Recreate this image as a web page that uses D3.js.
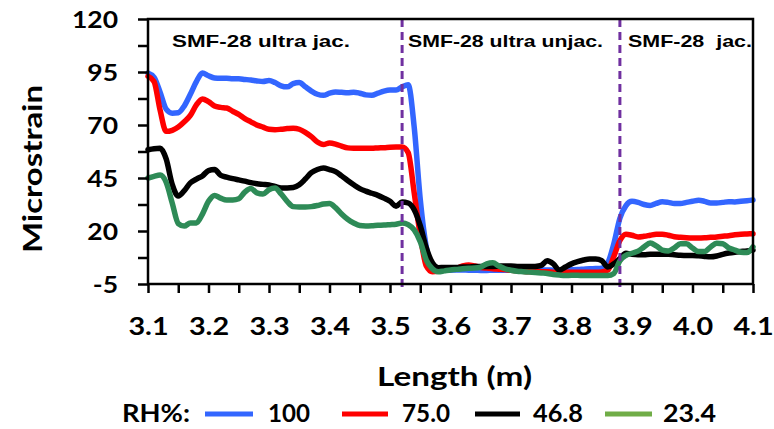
<!DOCTYPE html>
<html>
<head>
<meta charset="utf-8">
<script src="https://cdn.jsdelivr.net/npm/d3@7"></script>
<style>
  html, body { margin: 0; padding: 0; background: #fff; }
  svg { display: block; }
  text { white-space: pre; }
</style>
</head>
<body>
<svg id="chart" width="774" height="429"></svg>
<script>
// ---------------- DATA ----------------
const lengths = [
  3.10,3.11,3.12,3.13,3.14,3.15,3.16,3.17,3.18,3.19,
  3.20,3.21,3.22,3.23,3.24,3.25,3.26,3.27,3.28,3.29,
  3.30,3.31,3.32,3.33,3.34,3.35,3.36,3.37,3.38,3.39,
  3.40,3.41,3.42,3.43,3.44,3.45,3.46,3.47,3.48,3.49,
  3.50,3.51,3.52,3.53,3.54,3.55,3.56,3.57,3.58,3.59,
  3.60,3.61,3.62,3.63,3.64,3.65,3.66,3.67,3.68,3.69,
  3.70,3.71,3.72,3.73,3.74,3.75,3.76,3.77,3.78,3.79,
  3.80,3.81,3.82,3.83,3.84,3.85,3.86,3.87,3.88,3.89,
  3.90,3.91,3.92,3.93,3.94,3.95,3.96,3.97,3.98,3.99,
  4.00,4.01,4.02,4.03,4.04,4.05,4.06,4.07,4.08,4.09,
  4.10
];

const rh100 = [
  94.5,92.5,85.5,77.5,75.6,75.8,79,84.5,90.5,94.5,
  93.2,92.2,92,92,91.8,91.8,91.5,91.2,90.8,90.5,
  91,90,88.5,88,89.5,90,88,86,84.5,84,
  85,85.6,85.4,85.2,85.5,85,84.2,84,85,86,
  86.5,86.5,88,89,69,35,12.5,3.5,1.8,1.5,
  1.5,1.6,1.6,1.5,1.5,1.4,1.4,1.5,1.5,1.5,
  1.5,1.5,1.5,1.5,1.6,1.6,1.6,1.5,1.5,1.6,
  1.7,1.8,2.0,2.2,2.3,2.5,5,14,26,32,
  34,33.5,32.5,32,33,33.8,33.5,33,33,33.5,
  34,34.5,34,33.2,33.2,33.5,33.8,33.7,34,34.3,
  34.6
];

const rh75 = [
  93,90.5,77,67,67.5,69,71.5,74.5,79.5,82.3,
  81,79,78.3,78,76.5,75,73,71.5,70,69,
  68,67.8,68,68.3,68.5,68,66.5,64.5,62,60.8,
  61.5,61,60,59.2,59,59,59,59,59.2,59.3,
  59.5,59.6,59.6,57,38,18,3.5,0.8,1,1.8,
  2.2,2.5,3.5,4,3.5,2.8,2.5,2.2,2,1.8,
  1.5,1.3,1.0,0.8,0.8,0.8,0.8,0.5,0.5,0.5,
  0.5,0.5,0.5,0.5,0.5,0.7,1.5,8,15.5,18.5,
  18,17.2,17.5,18,18.5,18.5,18,17.3,17,16.8,
  16.7,16.7,16.8,17,17.2,17.5,17.8,18.2,18.5,18.6,
  18.7
];

const rh46_8 = [
  58.3,58.8,59,54,42,36.5,39,42.7,44.5,46,
  48.5,49,46.3,45.4,44.7,44.1,43.5,42.8,42.3,42,
  41.7,41,40.3,40.3,40.5,41.8,44.5,47.5,49,49.7,
  49,48,46,43.8,41.8,40,38.8,37.8,36.8,35.5,
  34,31.7,33.7,33.2,30,22.5,12,5,2.7,2.8,
  2.8,2.8,3,3,3.2,3.2,3.3,3.3,3.4,3.5,
  3.5,3.3,3.2,3.2,3.3,3.8,6,4.5,1.5,3,
  4.5,5.5,6.3,6.8,6.8,6,3,4.5,7,9.5,
  9,8.8,8.8,9,9,9,9,8.8,8.6,8.5,
  8.5,8.3,8,7.8,8.2,9,9.6,10,10.3,10.6,
  11
];

const rh23_4 = [
  45,45.8,46.4,43,33.2,23.5,22.3,23.8,23.8,28,
  34,36.8,35.5,34.6,34.6,35.2,38.3,40,38,37.5,
  39.5,40.3,37.5,34,31.5,31.3,31.3,31.5,32,32.7,
  33,31,28,25.5,23.8,22.6,22.4,22.5,22.7,22.8,
  23,23.2,23.8,23,20.5,15,6.3,2.2,0.8,1.2,
  1.6,1.9,2.2,2.4,2.5,3,4.5,5,3.5,2.2,
  1.5,1.0,0.8,0.6,0.4,0.2,0,-0.5,-0.8,-1,
  -0.9,-0.9,-1,-1,-1,-1,-1,0,6,8.5,
  9.5,10.5,12.5,14.3,13,11,10.6,12,14,14,
  12,10.3,10.3,12.5,14.2,14,12,11,10,9.8,
  12.5
];

const seriesNames = ["100", "75.0", "46.8", "23.4"];
const seriesValues = [rh100, rh75, rh46_8, rh23_4];
const lineColors = ["#3366ff", "#ff0000", "#000000", "#2e8b57"];
const legendColors = ["#3366ff", "#ff0000", "#000000", "#70ad47"];

const yTickValues = [-5, 7.5, 20, 32.5, 45, 57.5, 70, 82.5, 95, 107.5, 120];
const yTickLabels = [-5, 20, 45, 70, 95, 120];
const xTickValues = [3.10,3.15,3.20,3.25,3.30,3.35,3.40,3.45,3.50,3.55,3.60,3.65,3.70,3.75,3.80,3.85,3.90,3.95,4.00,4.05,4.10];
const xTickLabels = [3.1,3.2,3.3,3.4,3.5,3.6,3.7,3.8,3.9,4.0,4.1];

const sectionBounds = [3.52, 3.88];
const sectionLabels = ["SMF-28 ultra jac.", "SMF-28 ultra unjac.", "SMF-28  jac."];

// ---------------- LAYOUT ----------------
const svg = d3.select("#chart");
const pLeft = 148, pRight = 753, pTop = 19, pBottom = 284;
const STRETCH = 1.15;
const axisFont = "Lato, 'Open Sans', 'Liberation Sans', sans-serif";

const x = d3.scaleLinear().domain([3.1, 4.1]).range([pLeft, pRight]);
const y = d3.scaleLinear().domain([-5, 120]).range([pBottom, pTop]);

svg.append("rect").attr("width", 774).attr("height", 429).attr("fill", "#fff");

function stretch(sel, f) {
  sel.each(function () {
    const w = this.getComputedTextLength();
    d3.select(this).attr("textLength", w * f).attr("lengthAdjust", "spacingAndGlyphs");
  });
}

// Lines
const line = d3.line()
  .x((d, i) => x(lengths[i]))
  .y(d => y(d))
  .curve(d3.curveMonotoneX);

const plot = svg.append("g");
seriesValues.forEach((vals, k) => {
  plot.append("path")
    .datum(vals)
    .attr("d", line)
    .attr("fill", "none")
    .attr("stroke", lineColors[k])
    .attr("stroke-width", 5.5)
    .attr("stroke-linejoin", "round")
    .attr("stroke-linecap", "round");
});

// Section dividers
svg.selectAll(".divider")
  .data(sectionBounds)
  .enter().append("line")
  .attr("x1", d => x(d)).attr("x2", d => x(d))
  .attr("y1", pTop).attr("y2", pBottom + 6)
  .attr("stroke", "#7030a0")
  .attr("stroke-width", 3)
  .attr("stroke-dasharray", "8,5");

// Section labels
const secPos = [[172, 178], [408, 195], [628, 124]];
svg.selectAll(".sec")
  .data(sectionLabels)
  .enter().append("text")
  .attr("x", (d, i) => secPos[i][0])
  .attr("y", 47)
  .attr("textLength", (d, i) => secPos[i][1])
  .attr("lengthAdjust", "spacingAndGlyphs")
  .attr("font-family", "'Liberation Sans', Arial, sans-serif")
  .attr("font-weight", "bold")
  .attr("font-size", 16.5)
  .attr("fill", "#000")
  .text(d => d);

// Frame
svg.append("rect")
  .attr("x", pLeft).attr("y", pTop)
  .attr("width", pRight - pLeft).attr("height", pBottom - pTop)
  .attr("fill", "none").attr("stroke", "#000").attr("stroke-width", 2.5);

// Y axis
const yAxis = svg.append("g")
  .attr("transform", `translate(${pLeft},0)`)
  .call(d3.axisLeft(y).tickValues(yTickValues).tickSize(10).tickSizeOuter(0)
    .tickFormat(d => yTickLabels.includes(d) ? String(d) : ""));
yAxis.select(".domain").remove();
yAxis.selectAll(".tick line").attr("stroke", "#000").attr("stroke-width", 2.5);
yAxis.selectAll(".tick text")
  .attr("x", -30).attr("dy", "0.36em")
  .attr("font-family", axisFont).attr("font-weight", "bold")
  .attr("font-size", 23).attr("fill", "#000");
stretch(yAxis.selectAll(".tick text").filter(function () { return this.textContent !== ""; }), STRETCH);

// X axis
const xAxis = svg.append("g")
  .attr("transform", `translate(0,${pBottom})`)
  .call(d3.axisBottom(x).tickValues(xTickValues).tickSize(9).tickSizeOuter(0)
    .tickFormat(d => xTickLabels.some(v => Math.abs(v - d) < 1e-9) ? d.toFixed(1) : ""));
xAxis.select(".domain").remove();
xAxis.selectAll(".tick line").attr("stroke", "#000").attr("stroke-width", 2.5);
xAxis.selectAll(".tick text")
  .attr("y", 51).attr("dy", 0)
  .attr("font-family", axisFont).attr("font-weight", "bold")
  .attr("font-size", 25).attr("fill", "#000");
stretch(xAxis.selectAll(".tick text").filter(function () { return this.textContent !== ""; }), STRETCH);

// Axis titles
svg.append("text")
  .attr("x", 377).attr("y", 386)
  .attr("textLength", 155).attr("lengthAdjust", "spacingAndGlyphs")
  .attr("font-family", axisFont).attr("font-weight", "bold")
  .attr("font-size", 26).attr("fill", "#000")
  .text("Length (m)");

svg.append("text")
  .attr("transform", "translate(42,169) rotate(-90)")
  .attr("text-anchor", "middle")
  .attr("textLength", 168).attr("lengthAdjust", "spacingAndGlyphs")
  .attr("font-family", axisFont).attr("font-weight", "bold")
  .attr("font-size", 27).attr("fill", "#000")
  .text("Microstrain");

// Legend
const legendY = 414, legendBase = 422;
const legend = svg.append("g");
legend.append("text")
  .attr("x", 122).attr("y", legendBase)
  .attr("textLength", 68).attr("lengthAdjust", "spacingAndGlyphs")
  .attr("font-family", axisFont).attr("font-weight", "bold")
  .attr("font-size", 24).attr("fill", "#000")
  .text("RH%:");
const legLine = [[205, 253], [342, 388], [475, 520], [605, 652]];
const legText = [[268, 42], [402, 48], [533, 50], [663, 53]];
seriesNames.forEach((name, k) => {
  legend.append("line")
    .attr("x1", legLine[k][0]).attr("x2", legLine[k][1])
    .attr("y1", legendY).attr("y2", legendY)
    .attr("stroke", legendColors[k]).attr("stroke-width", 5);
  legend.append("text")
    .attr("x", legText[k][0]).attr("y", legendBase)
    .attr("textLength", legText[k][1]).attr("lengthAdjust", "spacingAndGlyphs")
    .attr("font-family", axisFont).attr("font-weight", "bold")
    .attr("font-size", 24).attr("fill", "#000")
    .text(name);
});
</script>
</body>
</html>
